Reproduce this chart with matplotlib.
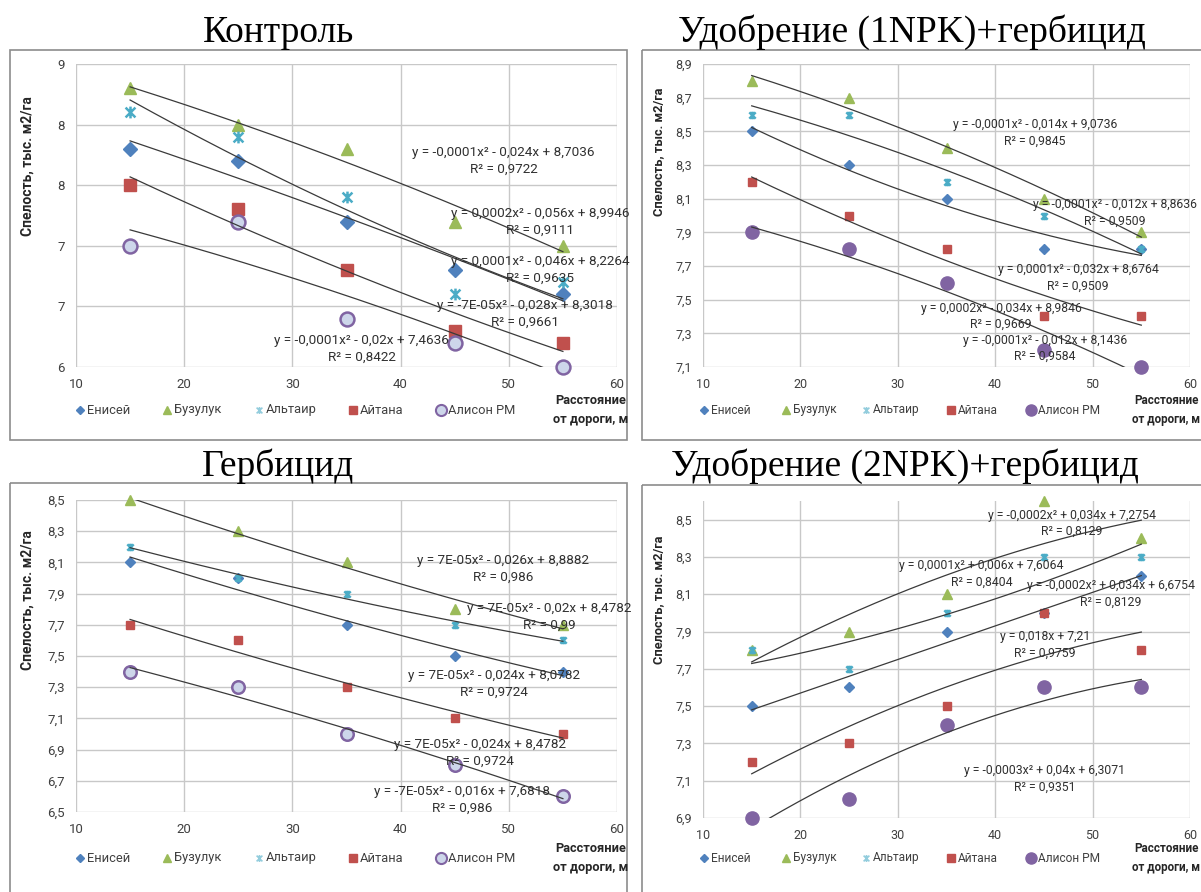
import numpy as np
import matplotlib
matplotlib.use('Agg')
import matplotlib.pyplot as plt
from matplotlib.path import Path

plt.rcParams['font.family'] = ['Roboto', 'DejaVu Sans']

W, H = 1201, 892

# data
x = [15, 25, 35, 45, 55]
names = ['Енисей', 'Бузулук', 'Альтаир', 'Айтана', 'Алисон РМ']

# Контроль
kontrol_enisey = [7.8, 7.7, 7.2, 6.8, 6.6]
kontrol_buzuluk = [8.3, 8.0, 7.8, 7.2, 7.0]
kontrol_altair = [8.1, 7.9, 7.4, 6.6, 6.7]
kontrol_aitana = [7.5, 7.3, 6.8, 6.3, 6.2]
kontrol_alison = [7.0, 7.2, 6.4, 6.2, 6.0]

# Удобрение (1NPK)+гербицид
npk1_enisey = [8.5, 8.3, 8.1, 7.8, 7.8]
npk1_buzuluk = [8.8, 8.7, 8.4, 8.1, 7.9]
npk1_altair = [8.6, 8.6, 8.2, 8.0, 7.8]
npk1_aitana = [8.2, 8.0, 7.8, 7.4, 7.4]
npk1_alison = [7.9, 7.8, 7.6, 7.2, 7.1]

# Гербицид
gerb_enisey = [8.1, 8.0, 7.7, 7.5, 7.4]
gerb_buzuluk = [8.5, 8.3, 8.1, 7.8, 7.7]
gerb_altair = [8.2, 8.0, 7.9, 7.7, 7.6]
gerb_aitana = [7.7, 7.6, 7.3, 7.1, 7.0]
gerb_alison = [7.4, 7.3, 7.0, 6.8, 6.6]

# Удобрение (2NPK)+гербицид
npk2_enisey = [7.5, 7.6, 7.9, 8.0, 8.2]
npk2_buzuluk = [7.8, 7.9, 8.1, 8.6, 8.4]
npk2_altair = [7.8, 7.7, 8.0, 8.3, 8.3]
npk2_aitana = [7.2, 7.3, 7.5, 8.0, 7.8]
npk2_alison = [6.9, 7.0, 7.4, 7.6, 7.6]

# trendline equations as printed on the charts
eq_kontrol = ['y = -0,0001x² - 0,024x + 8,7036\nR² = 0,9722',
              'y = 0,0002x² - 0,056x + 8,9946\nR² = 0,9111',
              'y = 0,0001x² - 0,046x + 8,2264\nR² = 0,9635',
              'y = -7E-05x² - 0,028x + 8,3018\nR² = 0,9661',
              'y = -0,0001x² - 0,02x + 7,4636\nR² = 0,8422']
eq_npk1 = ['y = -0,0001x² - 0,014x + 9,0736\nR² = 0,9845',
           'y = -0,0001x² - 0,012x + 8,8636\nR² = 0,9509',
           'y = 0,0001x² - 0,032x + 8,6764\nR² = 0,9509',
           'y = 0,0002x² - 0,034x + 8,9846\nR² = 0,9669',
           'y = -0,0001x² - 0,012x + 8,1436\nR² = 0,9584']
eq_gerb = ['y = 7E-05x² - 0,026x + 8,8882\nR² = 0,986',
           'y = 7E-05x² - 0,02x + 8,4782\nR² = 0,99',
           'y = 7E-05x² - 0,024x + 8,0782\nR² = 0,9724',
           'y = 7E-05x² - 0,024x + 8,4782\nR² = 0,9724',
           'y = -7E-05x² - 0,016x + 7,6818\nR² = 0,986']
eq_npk2 = ['y = -0,0002x² + 0,034x + 7,2754\nR² = 0,8129',
           'y = 0,0001x² + 0,006x + 7,6064\nR² = 0,8404',
           'y = -0,0002x² + 0,034x + 6,6754\nR² = 0,8129',
           'y = 0,018x + 7,21\nR² = 0,9759',
           'y = -0,0003x² + 0,04x + 6,3071\nR² = 0,9351']

colors = ['#4f81bd', '#9bbb59', '#4bacc6', '#c0504d', '#8064a2']
star = Path([(-1, -1), (1, 1), (-1, 1), (1, -1), (0, -1.2), (0, 1.2)],
            [Path.MOVETO, Path.LINETO, Path.MOVETO, Path.LINETO, Path.MOVETO, Path.LINETO])
markers = ['D', '^', star, 's', 'o']


def rect(l, t, r, b):
    return [l / W, 1 - b / H, (r - l) / W, (b - t) / H]


left_col = dict(leg_x=[80, 167, 259, 353, 441], fs=9.7, leg_fs=9.3, lab_fs=10, tick_fs=9.5)
right_col = dict(leg_x=[704, 786, 866, 951, 1031], fs=8.8, leg_fs=8.6, lab_fs=9.2, tick_fs=9)

panels = [
    dict(title='Контроль', series=[kontrol_enisey, kontrol_buzuluk, kontrol_altair, kontrol_aitana, kontrol_alison],
         deg=[2, 2, 2, 2, 2], eqs=eq_kontrol,
         eq_pos=[(49.5, 7.70), (52.9, 7.20), (52.9, 6.80), (51.5, 6.44), (36.4, 6.15)],
         ylim=(6, 8.5), yticks=np.arange(6, 8.51, 0.5), integer=True,
         box=(10, 50, 627, 440), plot=(76, 64, 617, 367), title_xy=(278, 42),
         ylab_xy=(28, 166), xlab_xy=(591, 410), leg_y=410,
         sizes=[7.5, 9, 8.5, 8, 10], hollow=True, **left_col),
    dict(title='Удобрение (1NPK)+гербицид', series=[npk1_enisey, npk1_buzuluk, npk1_altair, npk1_aitana, npk1_alison],
         deg=[2, 2, 2, 2, 2], eqs=eq_npk1,
         eq_pos=[(44.1, 8.49), (52.3, 8.015), (48.5, 7.63), (40.6, 7.40), (45.1, 7.21)],
         ylim=(7.1, 8.9), yticks=np.arange(7.1, 8.91, 0.2), integer=False,
         box=(642, 50, 1210, 440), plot=(703, 64, 1190, 367), title_xy=(912, 42),
         ylab_xy=(659, 152), xlab_xy=(1166, 410), leg_y=410,
         sizes=[5, 6.5, 5.5, 6, 9.5], hollow=False, **right_col),
    dict(title='Гербицид', series=[gerb_enisey, gerb_buzuluk, gerb_altair, gerb_aitana, gerb_alison],
         deg=[2, 2, 2, 2, 2], eqs=eq_gerb,
         eq_pos=[(49.5, 8.06), (53.7, 7.75), (48.6, 7.32), (47.3, 6.88), (45.7, 6.58)],
         ylim=(6.5, 8.5), yticks=np.arange(6.5, 8.51, 0.2), integer=False,
         box=(10, 483, 627, 900), plot=(76, 500, 617, 812), title_xy=(278, 476),
         ylab_xy=(28, 600), xlab_xy=(591, 858), leg_y=858,
         sizes=[5, 6.5, 5.5, 6, 9], hollow=True, **left_col),
    dict(title='Удобрение (2NPK)+гербицид', series=[npk2_enisey, npk2_buzuluk, npk2_altair, npk2_aitana, npk2_alison],
         deg=[1, 2, 2, 2, 2], eqs=eq_npk2,
         eq_pos=[(47.9, 8.48), (38.6, 8.21), (51.9, 8.10), (45.1, 7.83), (45.1, 7.11)],
         ylim=(6.9, 8.6), yticks=np.arange(6.9, 8.51, 0.2), integer=False,
         box=(642, 485, 1210, 900), plot=(703, 501, 1190, 818), title_xy=(905, 476),
         ylab_xy=(659, 600), xlab_xy=(1166, 858), leg_y=858,
         sizes=[5, 6.5, 5.5, 6, 9.5], hollow=False, **right_col),
]

fig = plt.figure(figsize=(W / 100, H / 100), dpi=100)

# overlay in pixel coordinates for frames, titles and legends
ov = fig.add_axes([0, 0, 1, 1])
ov.set_xlim(0, W)
ov.set_ylim(H, 0)
ov.axis('off')

for p in panels:
    l, t, r, b = p['box']
    ov.add_patch(plt.Rectangle((l, t), r - l, b - t, fill=False, edgecolor='#8c8c8c', lw=1.2))
    ov.text(p['title_xy'][0], p['title_xy'][1], p['title'], ha='center', va='baseline',
            fontsize=27, family='Liberation Serif', color='black')
    ov.text(p['ylab_xy'][0], p['ylab_xy'][1], 'Спелость, тыс. м2/га', rotation=90, ha='center', va='center',
            fontsize=p['lab_fs'], fontweight='bold', color='#262626')
    ov.text(p['xlab_xy'][0], p['xlab_xy'][1], 'Расстояние\nот дороги, м', ha='center', va='center',
            fontsize=p['lab_fs'] - 0.8, fontweight='bold', color='#262626', linespacing=1.5)

    ax = fig.add_axes(rect(*p['plot']))
    for s in ax.spines.values():
        s.set_visible(False)
    ax.set_xlim(10, 60)
    ax.set_ylim(*p['ylim'])
    ax.set_xticks(range(10, 61, 10))
    ax.set_yticks(p['yticks'])
    if p['integer']:
        ax.set_yticklabels([str(int(np.floor(v + 0.5))) for v in p['yticks']])
    else:
        ax.set_yticklabels([f'{v:.1f}'.replace('.', ',') for v in p['yticks']])
    ax.tick_params(length=0, labelsize=p['tick_fs'], colors='#404040', pad=8)
    ax.grid(True, color='#c8c8c8', lw=1)
    ax.set_axisbelow(True)

    xs = np.linspace(15, 55, 200)
    for i, y in enumerate(p['series']):
        if i == 4 and p['hollow']:
            ax.plot(x, y, ls='none', marker='o', ms=p['sizes'][i], mfc='#cdd6ea', mec=colors[4], mew=1.8,
                    clip_on=False, zorder=3)
        elif i == 2:
            ax.plot(x, y, ls='none', marker=star, ms=p['sizes'][i], mec=colors[2], mew=1.8,
                    clip_on=False, zorder=3)
        else:
            ax.plot(x, y, ls='none', marker=markers[i], ms=p['sizes'][i], color=colors[i],
                    clip_on=False, zorder=3)
        coef = np.polyfit(x, y, p['deg'][i])
        ax.plot(xs, np.polyval(coef, xs), color='#3a3a3a', lw=0.9, zorder=4)

    for txt, (ex, ey) in zip(p['eqs'], p['eq_pos']):
        ax.text(ex, ey, txt, ha='center', va='center', fontsize=p['fs'], color='#303030',
                linespacing=1.35, clip_on=False, zorder=5)

    # legend row
    for i, name in enumerate(names):
        lx = p['leg_x'][i]
        ly = p['leg_y']
        if i == 4:
            if p['hollow']:
                ov.plot(lx, ly, marker='o', ms=8, mfc='#cdd6ea', mec=colors[4], mew=1.5, ls='none')
            else:
                ov.plot(lx, ly, marker='o', ms=8, color=colors[4], ls='none')
        elif i == 2:
            ov.plot(lx, ly, marker=star, ms=5, mec='#93cddd', mew=1.2, ls='none')
        else:
            ov.plot(lx, ly, marker=markers[i], ms=[4.5, 5.5, 0, 5.5][i], color=colors[i], ls='none')
        ov.text(lx + 7, ly, name, ha='left', va='center', fontsize=p['leg_fs'], color='#404040')

fig.savefig('out.png', dpi=100)
